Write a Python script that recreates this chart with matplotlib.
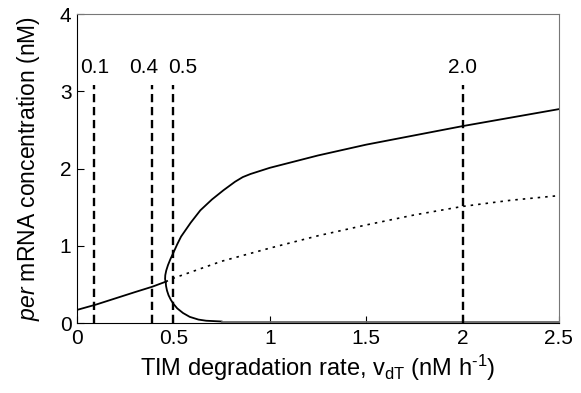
import matplotlib
matplotlib.use("Agg")
import matplotlib.pyplot as plt

plt.rcParams['font.family'] = ['Liberation Sans', 'DejaVu Sans']
plt.rcParams['mathtext.fontset'] = 'custom'
plt.rcParams['mathtext.rm'] = 'Liberation Sans'
plt.rcParams['mathtext.it'] = 'Liberation Sans:italic'

# stable steady state (low vdT)
stable_x = [0.0, 0.1, 0.2, 0.3, 0.39, 0.46]
stable_y = [0.17, 0.24, 0.32, 0.40, 0.47, 0.535]

# unstable steady state (dotted)
unstable_x = [0.46, 0.5, 0.75, 1.0, 1.25, 1.5, 1.75, 2.0, 2.25, 2.5]
unstable_y = [0.535, 0.58, 0.80, 0.97, 1.13, 1.27, 1.40, 1.51, 1.59, 1.65]

# limit cycle maximum
max_x = [0.46, 0.457, 0.458, 0.463, 0.472, 0.485, 0.50, 0.52, 0.54, 0.59, 0.64,
         0.70, 0.76, 0.82, 0.86, 0.90, 1.0, 1.25, 1.5, 1.75, 2.0, 2.25, 2.5]
max_y = [0.535, 0.57, 0.62, 0.68, 0.75, 0.83, 0.91, 1.02, 1.12, 1.30, 1.46,
         1.60, 1.72, 1.83, 1.89, 1.93, 2.01, 2.17, 2.31, 2.43, 2.55, 2.66, 2.77]

# limit cycle minimum
min_x = [0.46, 0.462, 0.467, 0.475, 0.487, 0.50, 0.52, 0.55, 0.585, 0.63, 0.67, 0.75]
min_y = [0.535, 0.48, 0.42, 0.36, 0.30, 0.25, 0.19, 0.13, 0.08, 0.045, 0.03, 0.02]
min_flat_x = [0.75, 1.0, 1.5, 2.0, 2.5]
min_flat_y = [0.02, 0.02, 0.02, 0.02, 0.02]

# marked vdT values
mark_x = [0.09, 0.39, 0.5, 2.0]
mark_labels = ['0.1', '0.4', '0.5', '2.0']
mark_label_x = [0.09, 0.345, 0.55, 2.0]

fig = plt.figure(figsize=(5.81, 3.93), dpi=100)
ax = fig.add_axes([0.1325, 0.178, 0.8295, 0.786])

ax.plot(stable_x, stable_y, color='black', lw=1.3)
ax.plot(unstable_x, unstable_y, color='black', lw=1.2, linestyle=(0, (1.5, 3)))
ax.plot(max_x, max_y, color='black', lw=1.3)
ax.plot(min_x, min_y, color='black', lw=1.3)
ax.plot(min_flat_x, min_flat_y, color='#666666', lw=1.3)

for xv, lx, lab in zip(mark_x, mark_label_x, mark_labels):
    ax.plot([xv, xv], [0, 3.08], color='black', lw=1.7, linestyle=(0, (3.5, 2)))
    ax.text(lx, 3.18, lab, ha='center', va='bottom', fontsize=15)

ax.set_xlim(0, 2.5)
ax.set_ylim(0, 4)
ax.set_xticks([0, 0.5, 1, 1.5, 2, 2.5])
ax.set_xticklabels(['0', '0.5', '1', '1.5', '2', '2.5'])
ax.set_yticks([0, 1, 2, 3, 4])
ax.tick_params(direction='in', labelsize=15, length=5, width=0.8, pad=4)
ax.spines['top'].set_color('#777777')
ax.spines['right'].set_color('#777777')

ax.set_xlabel(r'TIM degradation rate, v$_{\mathrm{dT}}$ (nM h$^{\text{-1}}$)',
              fontsize=17, labelpad=4)
ax.set_ylabel(r'$\mathit{per}$ mRNA concentration (nM)', fontsize=16.5, labelpad=13)

fig.savefig('out.png', dpi=100)
